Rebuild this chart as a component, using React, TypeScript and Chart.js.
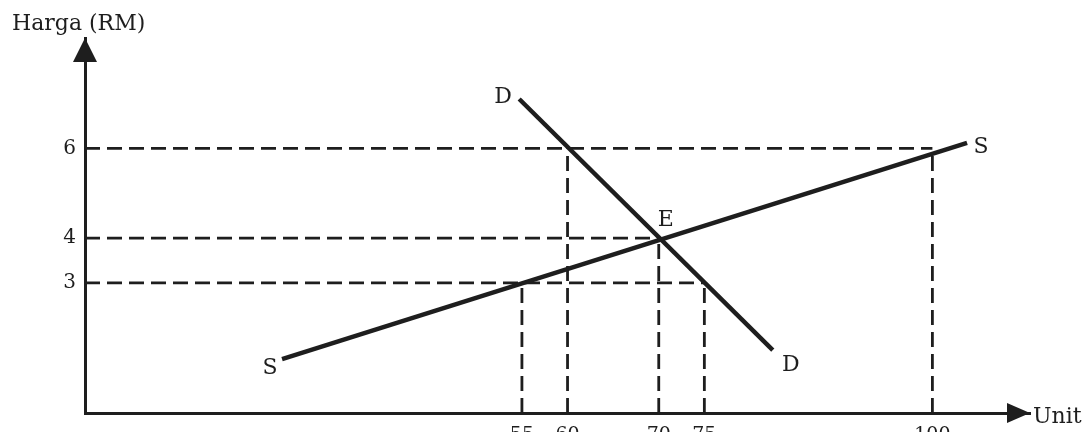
import React, { useEffect, useRef } from "react";
import { Chart, registerables } from "chart.js";

Chart.register(...registerables);

// ---- data ----
const xTicks = [55, 60, 70, 75, 100];
const yTicks = [3, 4, 6];

const supplyX = [28.7, 103.8];
const supplyY = [1.3, 6.12];
const demandX = [54.7, 82.5];
const demandY = [7.1, 1.5];

const equilibriumX = 70;
const equilibriumY = 4;

// horizontal guides: price level and where they end (quantity)
const hGuideY = [6, 4, 3];
const hGuideXEnd = [100, 70, 75];
// vertical guides: quantity and where they start (price)
const vGuideX = [55, 60, 70, 75, 100];
const vGuideYTop = [3, 6, 4, 3, 5.9];

const xRange = [7.1, 110.7];
const yRange = [0.1, 8.46];

const INK = "#1e1e1e";
const FONT = "'DejaVu Serif', serif";

export default function App() {
  const ref = useRef<HTMLCanvasElement | null>(null);

  useEffect(() => {
    if (!ref.current) return;

    const guideStyle = {
      borderColor: INK,
      borderWidth: 2.8,
      borderDash: [15, 7],
      pointRadius: 0,
      fill: false,
      tension: 0,
      clip: false as any,
    };

    const hGuides = hGuideY.map((y, i) => ({
      ...guideStyle,
      label: "h" + i,
      data: [
        { x: xRange[0], y },
        { x: hGuideXEnd[i], y },
      ],
    }));
    const vGuides = vGuideX.map((x, i) => ({
      ...guideStyle,
      label: "v" + i,
      data: [
        { x, y: yRange[0] },
        { x, y: vGuideYTop[i] },
      ],
    }));

    const solid = {
      borderColor: INK,
      borderWidth: 4.5,
      pointRadius: 0,
      fill: false,
      tension: 0,
      clip: false as any,
      borderCapStyle: "butt" as const,
    };

    const supply = {
      ...solid,
      label: "S",
      data: supplyX.map((x, i) => ({ x, y: supplyY[i] })),
    };
    const demand = {
      ...solid,
      label: "D",
      data: demandX.map((x, i) => ({ x, y: demandY[i] })),
    };

    const decorations = {
      id: "decorations",
      afterDraw(chart: any) {
        const { ctx, chartArea, scales } = chart;
        const xs = scales.x;
        const ys = scales.y;
        const x0 = chartArea.left;
        const y0 = chartArea.bottom;
        ctx.save();
        ctx.fillStyle = INK;
        // y arrow
        ctx.beginPath();
        ctx.moveTo(x0, chartArea.top);
        ctx.lineTo(x0 - 12, chartArea.top + 24);
        ctx.lineTo(x0 + 12, chartArea.top + 24);
        ctx.closePath();
        ctx.fill();
        // x arrow
        ctx.beginPath();
        ctx.moveTo(chartArea.right, y0);
        ctx.lineTo(chartArea.right - 23, y0 - 10);
        ctx.lineTo(chartArea.right - 23, y0 + 10);
        ctx.closePath();
        ctx.fill();

        // axis titles
        ctx.font = `22px ${FONT}`;
        ctx.textBaseline = "alphabetic";
        ctx.textAlign = "left";
        ctx.fillText("Harga (RM)", 12, 30);
        ctx.fillText("Unit", chartArea.right + 3, y0 + 10);

        // curve labels
        ctx.textAlign = "center";
        ctx.textBaseline = "middle";
        const put = (t: string, x: number, y: number, dx: number, dy: number) =>
          ctx.fillText(t, xs.getPixelForValue(x) + dx, ys.getPixelForValue(y) + dy);
        put("S", supplyX[0], supplyY[0], -12, 9);
        put("S", supplyX[1], supplyY[1], 14, 4);
        put("D", demandX[0], demandY[0], -16, -2);
        put("D", demandX[1], demandY[1], 18, 15);
        put("E", equilibriumX, equilibriumY, 7, -18);
        ctx.restore();
      },
    };

    const chart = new Chart(ref.current, {
      type: "line",
      data: {
        datasets: [supply, demand, ...hGuides, ...vGuides] as any,
      },
      options: {
        responsive: false,
        animation: false,
        devicePixelRatio: 1,
        layout: { padding: { top: 38, right: 59, left: 0, bottom: 0 } },
        plugins: {
          legend: { display: false },
          tooltip: { enabled: false },
        },
        scales: {
          x: {
            type: "linear",
            min: xRange[0],
            max: xRange[1],
            grid: { display: false, drawTicks: false },
            border: { display: true, color: INK, width: 3 },
            afterBuildTicks: (s: any) => {
              s.ticks = xTicks.map((v) => ({ value: v }));
            },
            afterFit: (s: any) => {
              s.height = 47;
            },
            ticks: {
              autoSkip: false,
              maxRotation: 0,
              padding: 11,
              color: INK,
              font: { family: FONT, size: 19 },
              callback: (v: any) => String(v),
            },
          },
          y: {
            type: "linear",
            min: yRange[0],
            max: yRange[1],
            grid: { display: false, drawTicks: false },
            border: { display: true, color: INK, width: 3 },
            afterBuildTicks: (s: any) => {
              s.ticks = yTicks.map((v) => ({ value: v }));
            },
            afterFit: (s: any) => {
              s.width = 85;
            },
            ticks: {
              autoSkip: false,
              padding: 9,
              color: INK,
              font: { family: FONT, size: 20 },
              callback: (v: any) => String(v),
            },
          },
        },
      },
      plugins: [decorations],
    });

    return () => chart.destroy();
  }, []);

  return (
    <div
      style={{
        position: "fixed",
        left: 0,
        top: 0,
        width: 1089,
        height: 432,
        overflow: "hidden",
        background: "#ffffff",
      }}
    >
      <canvas ref={ref} width={1089} height={460} style={{ display: "block" }} />
    </div>
  );
}
